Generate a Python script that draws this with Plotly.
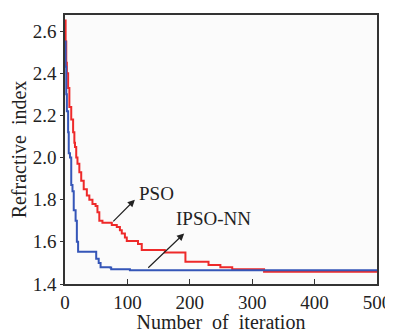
import plotly.graph_objects as go

# PSO (red) step curve: iteration, refractive index
pso_iter = [0, 1, 2, 3, 5, 7, 10, 13, 15, 16, 18, 20, 23, 26, 30, 35, 39, 44, 49, 52, 55, 60, 71, 75, 83, 88, 91, 96, 99, 117, 123, 160, 193, 230, 249, 268, 319, 500]
pso_val = [2.65, 2.55, 2.45, 2.40, 2.33, 2.24, 2.18, 2.12, 2.07, 2.05, 2.00, 1.97, 1.93, 1.89, 1.85, 1.82, 1.80, 1.78, 1.77, 1.74, 1.70, 1.69, 1.69, 1.68, 1.67, 1.655, 1.64, 1.62, 1.604, 1.59, 1.561, 1.55, 1.505, 1.49, 1.479, 1.47, 1.458, 1.458]

# IPSO-NN (blue) step curve
ipso_iter = [0, 1, 2, 3, 5, 6, 8, 10, 12, 14, 17, 19, 21, 48, 50, 54, 57, 72, 74, 104, 500]
ipso_val = [2.55, 2.43, 2.30, 2.22, 2.12, 2.02, 2.00, 1.87, 1.84, 1.75, 1.70, 1.60, 1.553, 1.553, 1.52, 1.50, 1.48, 1.478, 1.47, 1.465, 1.465]

x_ticks = [0, 100, 200, 300, 400, 500]
y_ticks = [1.4, 1.6, 1.8, 2.0, 2.2, 2.4, 2.6]

font = "Liberation Serif, Times New Roman, serif"

fig = go.Figure()
fig.add_trace(go.Scatter(x=pso_iter, y=pso_val, mode="lines", line=dict(color="#ee2a2a", width=2, shape="hv"), name="PSO"))
fig.add_trace(go.Scatter(x=ipso_iter, y=ipso_val, mode="lines", line=dict(color="#3556b8", width=2, shape="hv"), name="IPSO-NN"))

fig.add_annotation(x=112, y=1.80, ax=75, ay=1.69, xref="x", yref="y", axref="x", ayref="y",
                   showarrow=True, arrowhead=2, arrowsize=1.2, arrowwidth=1.2, arrowcolor="#222", text="")
fig.add_annotation(x=191, y=1.64, ax=131, ay=1.47, xref="x", yref="y", axref="x", ayref="y",
                   showarrow=True, arrowhead=2, arrowsize=1.2, arrowwidth=1.2, arrowcolor="#222", text="")
fig.add_annotation(x=147, y=1.83, xref="x", yref="y", text="PSO", showarrow=False,
                   font=dict(family=font, size=19, color="#222"))
fig.add_annotation(x=238, y=1.713, xref="x", yref="y", text="IPSO-NN", showarrow=False,
                   font=dict(family=font, size=19, color="#222"))

# page body has an 8px margin, so the figure is shrunk and shifted accordingly
fig.update_layout(
    width=385, height=325,
    margin=dict(l=57, r=16, t=7, b=49),
    paper_bgcolor="white", plot_bgcolor="#fbfbfb",
    showlegend=False,
    font=dict(family=font, size=19, color="#222"),
)
fig.update_xaxes(range=[0, 500], tickvals=x_ticks, ticks="inside", ticklen=5, tickcolor="#333",
                 showline=True, linecolor="#333", linewidth=1.5, mirror=True, showgrid=False, zeroline=False,
                 automargin=False,
                 title=dict(text="Number  of  iteration", font=dict(family=font, size=20), standoff=8))
fig.update_yaxes(range=[1.4, 2.676], tickvals=y_ticks, ticktext=[f"{v:.1f}" for v in y_ticks],
                 ticks="outside", ticklen=3, tickcolor="#333",
                 showline=True, linecolor="#333", linewidth=1.5, mirror=True, showgrid=False, zeroline=False,
                 automargin=False,
                 title=dict(text="Refractive  index", font=dict(family=font, size=20), standoff=6))

fig.write_html("out.html")
